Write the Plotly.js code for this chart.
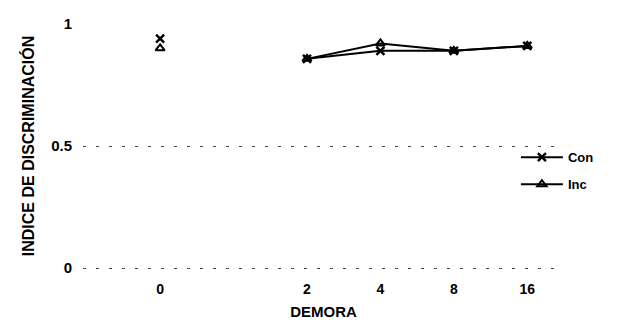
<!DOCTYPE html>
<html>
<head>
<meta charset="utf-8">
<script src="https://cdn.plot.ly/plotly-3.0.1.min.js"></script>
<style>html,body{margin:0;padding:0;background:#fff;}#chart{width:634px;height:322px;}</style>
</head>
<body>
<div id="chart"></div>
<script>
// Categories (the blank one is the empty slot between 0 and 2 on the original axis)
const demora = ["0", " ", "2", "4", "8", "16"];
const conValues = [0.94, null, 0.857, 0.89, 0.89, 0.91];
const incValues = [0.90, null, 0.857, 0.92, 0.89, 0.91];
const seriesNames = ["Con", "Inc"];
const yTickVals = [0, 0.5, 1];
const yTickText = ["0", "0.5", "1"];
const yGridVals = [0, 0.5];

const font = {family: "Arial, 'Liberation Sans', sans-serif", color: "#000", weight: 700};

const traces = [
  {x: demora, y: conValues, name: seriesNames[0], type: "scatter", mode: "lines+markers",
   connectgaps: false, legendgroup: "a",
   line: {color: "#000", width: 2},
   marker: {symbol: "x-thin", size: 8, line: {color: "#000", width: 2.5}, color: "#000"}},
  {x: demora, y: incValues, name: seriesNames[1], type: "scatter", mode: "lines+markers",
   connectgaps: false, legendgroup: "b",
   line: {color: "#000", width: 2},
   marker: {symbol: "triangle-up-open", size: 8, line: {color: "#000", width: 2}, color: "#000"}}
];

const layout = {
  width: 634, height: 322,
  margin: {l: 83, r: 70, t: 22, b: 52},
  paper_bgcolor: "#fff", plot_bgcolor: "#fff",
  font: font,
  showlegend: true,
  legend: {x: 0.9, y: 0.515, xanchor: "left", yanchor: "top", traceorder: "grouped",
           tracegroupgap: 7, itemwidth: 42, bgcolor: "rgba(0,0,0,0)",
           font: {family: font.family, size: 13, color: "#000", weight: 700}},
  xaxis: {
    type: "category", categoryorder: "array", categoryarray: demora,
    range: [-1.05, 5.5],
    showgrid: false, zeroline: false, showline: false, ticks: "",
    ticklabelstandoff: 9,
    tickfont: {family: font.family, size: 14, color: "#000", weight: 700},
    title: {text: "DEMORA", standoff: 10, font: {family: font.family, size: 15, color: "#000", weight: 700}}
  },
  yaxis: {
    range: [-0.008, 1.008], tickvals: yTickVals, ticktext: yTickText,
    showgrid: false, zeroline: false, showline: false, ticks: "",
    minor: {tickvals: yGridVals, showgrid: true, gridcolor: "#444", gridwidth: 1, griddash: "3px,10px", ticks: ""},
    ticklabelstandoff: 10,
    tickfont: {family: font.family, size: 15, color: "#000", weight: 700},
    title: {text: "INDICE DE DISCRIMINACIÓN", standoff: 12, font: {family: font.family, size: 16, color: "#000", weight: 700}}
  }
};

Plotly.newPlot("chart", traces, layout, {displayModeBar: false, staticPlot: true});
</script>
</body>
</html>
